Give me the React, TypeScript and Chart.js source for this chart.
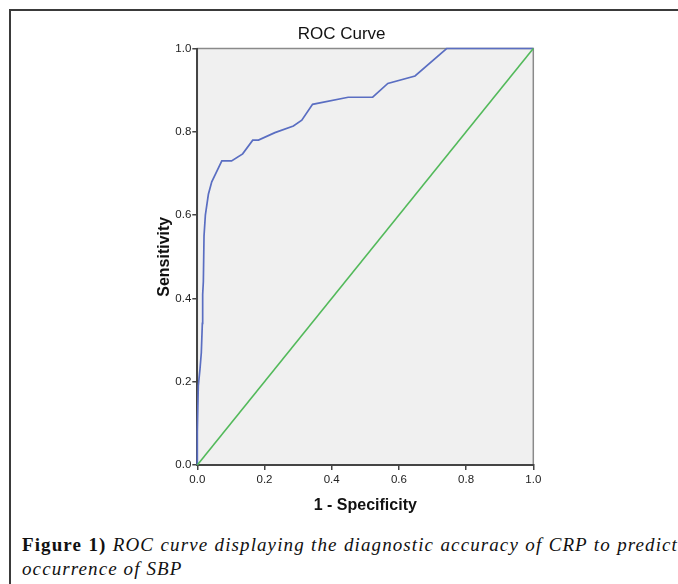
import React, { useEffect, useRef } from 'react';
import { Chart, registerables } from 'chart.js';

Chart.register(...registerables);

// ROC curve (1 - specificity, sensitivity)
const fpr = [0, 0, 0.003, 0.008, 0.012, 0.015, 0.016, 0.018, 0.02, 0.024, 0.033, 0.043, 0.073, 0.102, 0.135, 0.165, 0.182, 0.231, 0.286, 0.311, 0.343, 0.449, 0.522, 0.567, 0.648, 0.742, 1.0];
const tpr = [0, 0.08, 0.19, 0.23, 0.27, 0.34, 0.41, 0.44, 0.55, 0.6, 0.65, 0.68, 0.73, 0.73, 0.747, 0.78, 0.78, 0.798, 0.814, 0.828, 0.866, 0.883, 0.883, 0.916, 0.934, 1.0, 1.0];
// Reference (chance) line
const refX = [0, 1];
const refY = [0, 1];
const xTicks = [0, 0.2, 0.4, 0.6, 0.8, 1.0];
const yTicks = [0, 0.2, 0.4, 0.6, 0.8, 1.0];

const NARROW = "'Liberation Sans Narrow', 'Liberation Sans', Arial, sans-serif";
const SANS = "'Liberation Sans', Arial, sans-serif";

const plotFrame = {
  id: 'plotFrame',
  beforeDraw(chart: any) {
    const { ctx, chartArea } = chart;
    const { left, top, right, bottom } = chartArea;
    ctx.save();
    ctx.fillStyle = '#f0f0f0';
    ctx.fillRect(left, top, right - left, bottom - top);
    ctx.strokeStyle = '#8a8a8a';
    ctx.lineWidth = 1.5;
    ctx.strokeRect(left, top, right - left, bottom - top);
    ctx.restore();
  },
};

export default function App() {
  const ref = useRef<HTMLCanvasElement | null>(null);

  useEffect(() => {
    if (!ref.current) return;
    const chart = new Chart(ref.current, {
      type: 'scatter',
      data: {
        datasets: [
          {
            label: 'Reference',
            data: refX.map((x, i) => ({ x, y: refY[i] })),
            showLine: true,
            borderColor: '#52b95a',
            borderWidth: 1.6,
            pointRadius: 0,
            clip: 3,
          },
          {
            label: 'CRP',
            data: fpr.map((x, i) => ({ x, y: tpr[i] })),
            showLine: true,
            borderColor: '#5a6ec2',
            borderWidth: 1.7,
            pointRadius: 0,
            clip: 3,
          },
        ],
      },
      options: {
        animation: false,
        responsive: false,
        maintainAspectRatio: false,
        layout: { padding: { left: 150, right: 144.7, top: 0, bottom: 0 } },
        plugins: {
          legend: { display: false },
          tooltip: { enabled: false },
          title: {
            display: true,
            text: 'ROC Curve',
            color: '#111',
            font: { family: NARROW, size: 17, weight: 'normal' },
            padding: { top: 23.8, bottom: 4.3 },
            fullSize: true,
          },
        },
        scales: {
          x: {
            type: 'linear',
            min: 0,
            max: 1,
            afterBuildTicks: (s: any) => {
              s.ticks = xTicks.map((v) => ({ value: v }));
            },
            afterFit: (s: any) => {
              s.height = 65;
            },
            ticks: {
              callback: (v: any) => Number(v).toFixed(1),
              color: '#222',
              font: { family: NARROW, size: 11.5 },
              padding: 3,
              maxRotation: 0,
            },
            grid: { drawOnChartArea: false, drawTicks: true, tickLength: 5, color: '#444', lineWidth: 1.5 },
            border: { display: true, color: '#444', width: 2 },
            title: {
              display: true,
              text: '1 - Specificity',
              color: '#111',
              font: { family: NARROW, size: 16, weight: 'bold' },
              padding: { top: 0, bottom: 14.9 },
            },
          },
          y: {
            type: 'linear',
            min: 0,
            max: 1,
            afterBuildTicks: (s: any) => {
              s.ticks = yTicks.map((v) => ({ value: v }));
            },
            afterFit: (s: any) => {
              s.width = 47.3;
            },
            ticks: {
              callback: (v: any) => Number(v).toFixed(1),
              color: '#222',
              font: { family: NARROW, size: 11.5 },
              padding: 1,
            },
            grid: { drawOnChartArea: false, drawTicks: true, tickLength: 5, color: '#444', lineWidth: 1.5 },
            border: { display: true, color: '#444', width: 2 },
            title: {
              display: true,
              text: 'Sensitivity',
              color: '#111',
              font: { family: SANS, size: 16, weight: 'bold' },
              padding: { top: 4.5, bottom: 0 },
            },
          },
        },
      },
      plugins: [plotFrame],
    });
    return () => chart.destroy();
  }, []);

  return (
    <div
      style={{
        position: 'fixed',
        left: 0,
        top: 0,
        width: 678,
        height: 584,
        overflow: 'hidden',
        background: '#fff',
      }}
    >
      <div
        style={{
          position: 'absolute',
          left: 9,
          top: 9,
          width: 700,
          height: 600,
          borderLeft: '2px solid #3a3a3a',
          borderTop: '2px solid #3a3a3a',
        }}
      />
      <canvas
        ref={ref}
        width={678}
        height={530}
        style={{ position: 'absolute', left: 0, top: 0, width: 678, height: 530 }}
      />
      <div
        style={{
          position: 'absolute',
          left: 22,
          top: 533,
          width: 656,
          fontFamily: "'Liberation Serif', 'Times New Roman', serif",
          fontSize: 19,
          letterSpacing: '1.1px',
          lineHeight: '24px',
          color: '#111',
        }}
      >
        <div style={{ textAlign: 'justify', textAlignLast: 'justify', whiteSpace: 'nowrap' as any }}>
          <b>Figure 1)</b> <i>ROC curve displaying the diagnostic accuracy of CRP to predict</i>
        </div>
        <div>
          <i>occurrence of SBP</i>
        </div>
      </div>
    </div>
  );
}
